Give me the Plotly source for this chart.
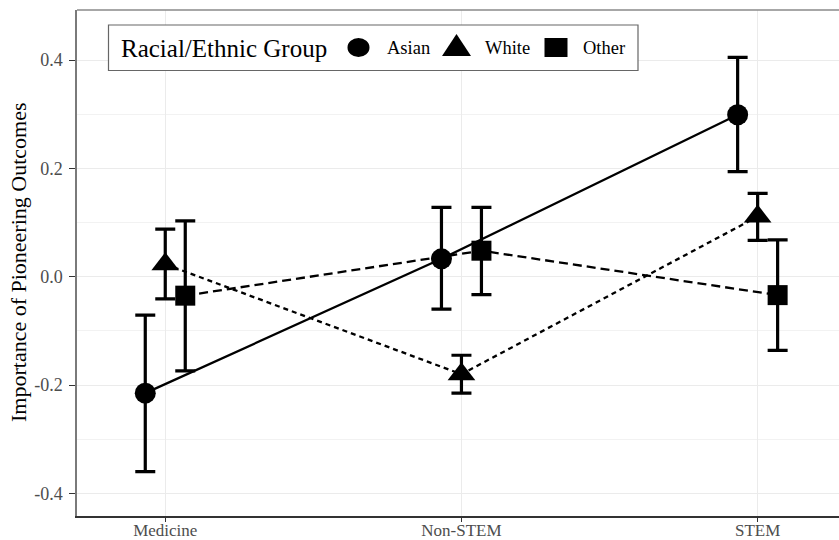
import plotly.graph_objects as go

categories = ["Medicine", "Non-STEM", "STEM"]
groups = ["Asian", "White", "Other"]
asian_mean = [-0.215, 0.033, 0.299]
asian_lo = [-0.360, -0.060, 0.194]
asian_hi = [-0.071, 0.128, 0.405]
white_mean = [0.023, -0.180, 0.111]
white_lo = [-0.041, -0.215, 0.067]
white_hi = [0.088, -0.145, 0.154]
other_mean = [-0.035, 0.048, -0.034]
other_lo = [-0.174, -0.033, -0.136]
other_hi = [0.103, 0.128, 0.068]
y_ticks = [-0.4, -0.2, 0.0, 0.2, 0.4]
y_tick_labels = ["-0.4", "-0.2", "0.0", "0.2", "0.4"]
y_minor = [-0.3, -0.1, 0.1, 0.3]

series = {
    "Asian": (asian_mean, asian_lo, asian_hi),
    "White": (white_mean, white_lo, white_hi),
    "Other": (other_mean, other_lo, other_hi),
}
offsets = {"Asian": -0.0675, "White": 0.0, "Other": 0.0675}
symbols = {"Asian": "circle", "White": "triangle-up", "Other": "square"}
sizes = {"Asian": 21, "White": 24, "Other": 20}
dashes = {"Asian": "solid", "White": "5px,4px", "Other": "9px,5px"}

FONT = "Liberation Serif, Times New Roman, serif"
W, H = 839, 540
L, R, T, B = 77, 839, 10, 516


def px(x):
    return (x - L) / (R - L)


def py(y):
    return (B - y) / (B - T)


fig = go.Figure()

# connecting lines
for g in groups:
    m, lo, hi = series[g]
    xs = [i + 1 + offsets[g] for i in range(len(categories))]
    fig.add_trace(go.Scatter(x=xs, y=m, mode="lines", showlegend=False,
                             line=dict(color="black", width=2.3, dash=dashes[g]),
                             hoverinfo="skip"))
# points with error bars
for g in groups:
    m, lo, hi = series[g]
    xs = [i + 1 + offsets[g] for i in range(len(categories))]
    fig.add_trace(go.Scatter(
        x=xs, y=m, mode="markers", name=g, showlegend=False,
        marker=dict(color="black", symbol=symbols[g], size=sizes[g]),
        error_y=dict(type="data", symmetric=False,
                     array=[h - v for h, v in zip(hi, m)],
                     arrayminus=[v - l for v, l in zip(m, lo)],
                     color="black", thickness=3.2, width=10),
    ))

shapes = [
    # top panel border
    dict(type="line", xref="paper", yref="paper", x0=0, x1=1, y0=1, y1=1,
         line=dict(color="#8a8a8a", width=1.5)),
    # legend box
    dict(type="rect", xref="paper", yref="paper",
         x0=px(108.5), x1=px(638), y0=py(25), y1=py(70.5),
         fillcolor="white", line=dict(color="#666666", width=1.2), layer="above"),
]
annotations = [
    dict(text="Racial/Ethnic Group", xref="paper", yref="paper",
         x=px(119), y=py(48), xanchor="left", yanchor="middle", showarrow=False,
         font=dict(size=25, family=FONT, color="black")),
    dict(text="Importance of Pioneering Outcomes", xref="paper", yref="paper",
         x=px(18), y=py(262), xanchor="center", yanchor="middle", textangle=-90,
         showarrow=False, font=dict(size=22, family=FONT, color="black")),
]

# manual legend keys (centre x, label left x)
legend_keys = {"Asian": (358.5, 385), "White": (456.5, 483), "Other": (556, 581)}
for g in groups:
    cx, tx = legend_keys[g]
    cy = 47.5
    if g == "Asian":
        shapes.append(dict(type="circle", xref="paper", yref="paper",
                           xsizemode="pixel", ysizemode="pixel",
                           xanchor=px(cx), yanchor=py(cy),
                           x0=-11, x1=11, y0=-9.5, y1=9.5,
                           fillcolor="black", line=dict(width=0), layer="above"))
    elif g == "White":
        shapes.append(dict(type="path", xref="paper", yref="paper",
                           xsizemode="pixel", ysizemode="pixel",
                           xanchor=px(cx), yanchor=py(cy),
                           path="M -14.5 -8.5 L 14.5 -8.5 L 0 13.5 Z",
                           fillcolor="black", line=dict(width=0), layer="above"))
    else:
        shapes.append(dict(type="rect", xref="paper", yref="paper",
                           xsizemode="pixel", ysizemode="pixel",
                           xanchor=px(cx), yanchor=py(cy),
                           x0=-11.5, x1=11.5, y0=-9.5, y1=9.5,
                           fillcolor="black", line=dict(width=0), layer="above"))
    annotations.append(dict(text=g, xref="paper", yref="paper",
                            x=px(tx), y=py(48), xanchor="left", yanchor="middle",
                            showarrow=False,
                            font=dict(size=18.5, family=FONT, color="black")))

fig.update_layout(
    width=W, height=H,
    margin=dict(l=L, r=W - R, t=T, b=H - B, autoexpand=False),
    plot_bgcolor="white", paper_bgcolor="white",
    font=dict(family=FONT, color="black"),
    showlegend=False,
    xaxis=dict(
        range=[0.702, 3.2747], tickvals=[1, 2, 3], ticktext=categories,
        automargin=False,
        showgrid=True, gridcolor="#ebebeb", gridwidth=1.3,
        zeroline=False, showline=True, linecolor="#333333", linewidth=1.5,
        ticks="outside", ticklen=4, tickcolor="#333333", tickwidth=1.2,
        ticklabelstandoff=-6,
        tickfont=dict(size=17, color="#4d4d4d", family=FONT),
    ),
    yaxis=dict(
        range=[-0.4418, 0.4924], tickvals=y_ticks, ticktext=y_tick_labels,
        automargin=False,
        showgrid=True, gridcolor="#ebebeb", gridwidth=1.3,
        minor=dict(tickvals=y_minor, showgrid=True,
                   gridcolor="#f2f2f2", gridwidth=1, ticks=""),
        zeroline=False, showline=True, linecolor="#7a7a7a", linewidth=1.5,
        ticks="outside", ticklen=6, tickcolor="#333333", tickwidth=1.2,
        ticklabelstandoff=3,
        tickfont=dict(size=18, color="#4d4d4d", family=FONT),
    ),
    shapes=shapes,
    annotations=annotations,
)

fig.write_html(
    "out.html",
    config={"displayModeBar": False},
    post_script="document.body.style.margin='0';document.body.style.overflow='hidden';",
)
